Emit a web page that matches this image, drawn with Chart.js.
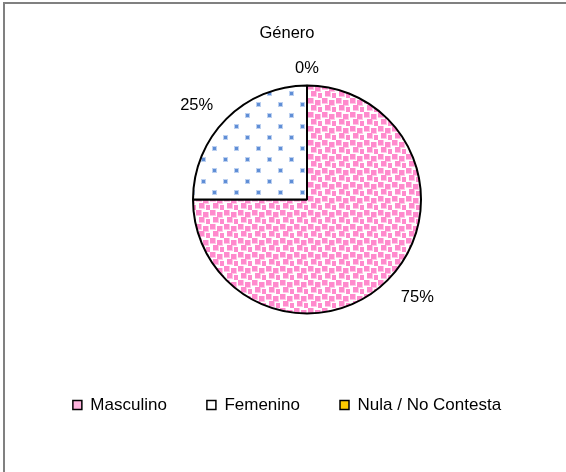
<!DOCTYPE html>
<html>
<head>
<meta charset="utf-8">
<script src="https://cdn.jsdelivr.net/npm/chart.js@4.4.1/dist/chart.umd.min.js"></script>
<style>
  html, body { margin: 0; padding: 0; background: #fff; }
  #wrap { position: relative; width: 566px; height: 472px; }
  #frame {
    position: absolute; left: 3px; top: 2px; right: 0; bottom: 0;
    border-top: 2px solid #808080; border-left: 2px solid #808080;
    pointer-events: none;
  }
</style>
</head>
<body>
<div id="wrap">
  <canvas id="chart"></canvas>
  <div id="frame"></div>
</div>
<script>
const chartTitle = 'Género';
const categories = ['Masculino', 'Femenino', 'Nula / No Contesta'];
const values = [75, 25, 0];

const FONT = '"Liberation Sans", Arial, sans-serif';

// fill patterns like the spreadsheet ones
function confetti() {
  const c = document.createElement('canvas');
  c.width = 14; c.height = 14;
  const g = c.getContext('2d');
  g.fillStyle = '#fff';
  g.fillRect(0, 0, 14, 14);
  const spots = [[0, 0], [7, 2], [3, 7], [10, 9]];
  for (const [x, y] of spots) {
    g.fillStyle = '#ffc4e5';
    g.fillRect(x, y, 6, 6);
    g.fillStyle = '#ff8acd';
    g.fillRect(x, y, 5, 5);
  }
  return g.createPattern(c, 'repeat');
}

function dots() {
  const c = document.createElement('canvas');
  c.width = 22; c.height = 22;
  const g = c.getContext('2d');
  g.fillStyle = '#fff';
  g.fillRect(0, 0, 22, 22);
  for (const [x, y] of [[4, 4], [15, 15]]) {
    g.fillStyle = '#bcd0f0';
    g.fillRect(x - 1, y - 1, 5, 5);
    g.fillStyle = '#5f8ed6';
    g.fillRect(x, y, 3, 3);
  }
  return g.createPattern(c, 'repeat');
}

const sliceFills = [confetti(), dots(), '#ffcc00'];
const legendFills = ['#ffb3dd', '#ffffff', '#ffcc00'];

// percentage labels outside the slices
const pieLabels = {
  id: 'pieLabels',
  afterDatasetsDraw(chart) {
    const ctx = chart.ctx;
    const meta = chart.getDatasetMeta(0);
    const total = values.reduce((a, b) => a + b, 0);
    ctx.save();
    ctx.fillStyle = '#000';
    ctx.font = '16.5px ' + FONT;
    meta.data.forEach((arc, i) => {
      const p = arc.getProps(['x', 'y', 'startAngle', 'endAngle', 'outerRadius'], true);
      const mid = (p.startAngle + p.endAngle) / 2;
      const r = p.outerRadius + 13;
      const cx = Math.cos(mid), sy = Math.sin(mid);
      let x = p.x + cx * r;
      let y = p.y + sy * r;
      if (cx > 0.2) { ctx.textAlign = 'left'; x += 4; }
      else if (cx < -0.2) { ctx.textAlign = 'right'; x -= 4; }
      else ctx.textAlign = 'center';
      ctx.textBaseline = sy > 0.2 ? 'top' : 'alphabetic';
      const pct = Math.round(values[i] / total * 100);
      ctx.fillText(pct + '%', x, y);
    });
    ctx.restore();
  }
};

new Chart(document.getElementById('chart'), {
  type: 'pie',
  data: {
    labels: categories,
    datasets: [{
      data: values,
      backgroundColor: sliceFills,
      borderColor: '#000',
      borderWidth: 2
    }]
  },
  options: {
    responsive: true,
    maintainAspectRatio: false,
    animation: false,
    layout: { padding: { top: 0, bottom: 48.5, left: 8, right: 0 } },
    plugins: {
      tooltip: { enabled: false },
      title: {
        display: true,
        text: chartTitle,
        color: '#000',
        font: { family: FONT, size: 16.5, weight: 'normal' },
        padding: { top: 23.1, bottom: 41.6 }
      },
      // empty left spacer so the pie sits right of the legend centre
      subtitle: {
        display: true,
        text: '',
        position: 'left',
        fullSize: false,
        font: { size: 12 },
        padding: { top: 25.6, bottom: 0 }
      },
      legend: {
        position: 'bottom',
        align: 'center',
        title: { display: true, text: '', font: { size: 12 }, padding: { top: 27.6, bottom: 0 } },
        labels: {
          color: '#000',
          font: { family: FONT, size: 17 },
          boxWidth: 9,
          boxHeight: 9,
          padding: 40,
          generateLabels: () => categories.map((c, i) => ({
            text: c,
            fillStyle: legendFills[i],
            strokeStyle: '#000',
            fontColor: '#000',
            lineWidth: 1.5,
            index: i
          }))
        }
      }
    }
  },
  plugins: [pieLabels]
});
</script>
</body>
</html>
